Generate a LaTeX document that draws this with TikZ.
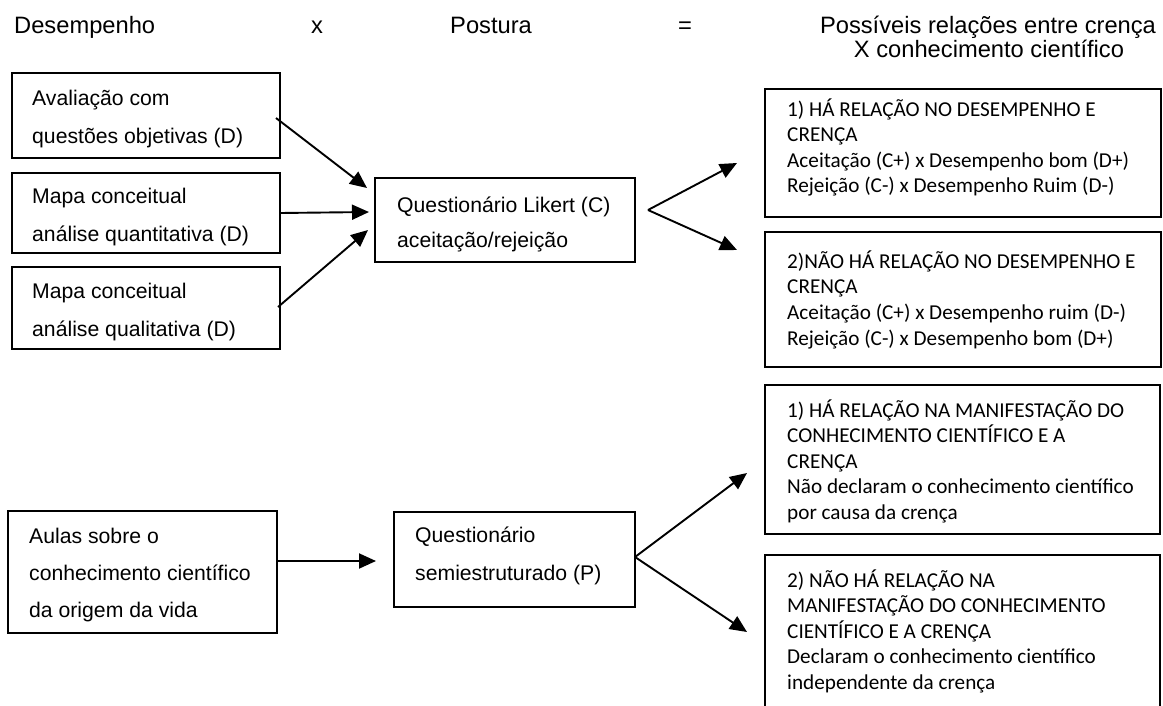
\documentclass[tikz,border=0pt]{standalone}
\usepackage{fontspec}
\setmainfont{Liberation Sans}
\newfontfamily\calibri{Carlito}
\usetikzlibrary{arrows.meta}

\tikzset{
  box/.style={draw, line width=1.7pt, inner sep=0pt, outer sep=0pt, anchor=north west},
  arr/.style={line width=1.9pt, -{Triangle[length=17pt,width=15pt]}},
  ar/.style={font=\fontsize{21.2}{25}\selectfont, anchor=base west, inner sep=0pt},
  cb/.style={font=\calibri\fontsize{21.2}{25}\selectfont, anchor=base west, inner sep=0pt},
  hd/.style={font=\fontsize{23.7}{28}\selectfont, anchor=base, inner sep=0pt},
}

\begin{document}
\begin{tikzpicture}[x=1pt,y=-1pt]
\clip (0,0) rectangle (1163,705);
\fill[white] (0,0) rectangle (1163,705);

% headings
\node[hd, anchor=base west] (hdes) at (14,33) {Desempenho};
\node[hd] (hx) at (317,33) {x};
\node[hd, anchor=base west] (hpos) at (450,33) {Postura};
\node[hd] (heq) at (685,33) {=};
\node[hd] (hrel1) at (988,33) {Possíveis relações entre crença};
\node[hd] (hrel2) at (989,57) {X conhecimento científico};

% performance instruments
\node[box, minimum width=268pt, minimum height=85pt] (b1) at (12,73) {};
\node[box, minimum width=268pt, minimum height=80pt] (b2) at (12,173) {};
\node[box, minimum width=268pt, minimum height=82pt] (b3) at (12,267) {};
\foreach \t [count=\i from 0] in {{Avaliação com},{questões objetivas (D)}}
  \node[ar] (tb1-\i) at (32,{105+38*\i}) {\t};
\foreach \t [count=\i from 0] in {{Mapa conceitual},{análise quantitativa (D)}}
  \node[ar] (tb2-\i) at (32,{203+38.5*\i}) {\t};
\foreach \t [count=\i from 0] in {{Mapa conceitual},{análise qualitativa (D)}}
  \node[ar] (tb3-\i) at (32,{298+38.5*\i}) {\t};

% Likert questionnaire
\node[box, minimum width=260pt, minimum height=84pt] (lik) at (375,178) {};
\foreach \t [count=\i from 0] in {{Questionário Likert (C)},{aceitação/rejeição}}
  \node[ar] (tlik-\i) at (397,{212+35.5*\i}) {\t};

% lessons and semi-structured questionnaire
\node[box, minimum width=269pt, minimum height=122pt] (aul) at (8,511) {};
\foreach \t [count=\i from 0] in {{Aulas sobre o},{conhecimento científico},{da origem da vida}}
  \node[ar] (taul-\i) at (29,{543+37*\i}) {\t};
\node[box, minimum width=241pt, minimum height=95pt] (qse) at (394,512) {};
\foreach \t [count=\i from 0] in {{Questionário},{semiestruturado (P)}}
  \node[ar] (tqse-\i) at (415,{542+38*\i}) {\t};

% possible relations
\node[box, minimum width=396pt, minimum height=128pt] (r1) at (765,89) {};
\node[box, minimum width=396pt, minimum height=135pt] (r2) at (765,232) {};
\node[box, minimum width=395pt, minimum height=149pt] (r3) at (765,385) {};
\node[box, minimum width=395pt, minimum height=180pt] (r4) at (765,555) {};
\foreach \t [count=\i from 0] in {{1) HÁ RELAÇÃO NO DESEMPENHO E},{CRENÇA},{Aceitação (C+) x Desempenho bom (D+)},{Rejeição (C-) x Desempenho Ruim (D-)}}
  \node[cb] (tr1-\i) at (787,{116+25.6*\i}) {\t};
\foreach \t [count=\i from 0] in {{2)NÃO HÁ RELAÇÃO NO DESEMPENHO E},{CRENÇA},{Aceitação (C+) x Desempenho ruim (D-)},{Rejeição (C-) x Desempenho bom (D+)}}
  \node[cb] (tr2-\i) at (787,{268+25.7*\i}) {\t};
\foreach \t [count=\i from 0] in {{1) HÁ RELAÇÃO NA MANIFESTAÇÃO DO},{CONHECIMENTO CIENTÍFICO E A},{CRENÇA},{Não declaram o conhecimento científico},{por causa da crença}}
  \node[cb] (tr3-\i) at (787,{417+25.6*\i}) {\t};
\foreach \t [count=\i from 0] in {{2) NÃO HÁ RELAÇÃO NA},{MANIFESTAÇÃO DO CONHECIMENTO},{CIENTÍFICO E A CRENÇA},{Declaram o conhecimento científico},{independente da crença}}
  \node[cb] (tr4-\i) at (787,{587+25.6*\i}) {\t};

% arrow end points
\coordinate (likin1) at (367,188);
\coordinate (likin2) at (369,212);
\coordinate (likin3) at (368,230);
\coordinate (fork1) at (648,210);
\coordinate (r1in) at (737,163);
\coordinate (r2in) at (737,250);
\coordinate (qsein) at (376,561);
\coordinate (r3in) at (747,473);
\coordinate (r4in) at (747,632);

% connectors
\draw[arr] ([shift={(-4pt,-2.5pt)}]b1.east) -- (likin1);
\draw[arr] (b2.east) -- (likin2);
\draw[arr] ([shift={(-2pt,1pt)}]b3.east) -- (likin3);
\draw[arr] (fork1) -- (r1in);
\draw[arr] (fork1) -- (r2in);
\draw[arr] ([yshift=11pt]aul.east) -- (qsein);
\draw[arr] ([yshift=2.5pt]qse.east) -- (r3in);
\draw[arr] ([yshift=2.5pt]qse.east) -- (r4in);
\end{tikzpicture}
\end{document}
